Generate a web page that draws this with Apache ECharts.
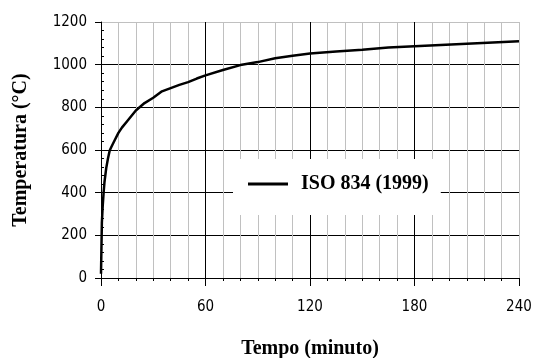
<!DOCTYPE html>
<html>
<head>
<meta charset="utf-8">
<script src="https://cdn.jsdelivr.net/npm/echarts@6/dist/echarts.min.js"></script>
<style>
  html, body { margin: 0; padding: 0; background: #fff; }
  #chart { width: 534px; height: 358px; }
</style>
</head>
<body>
<div id="chart"></div>
<script>
// Tempo (minuto) vs Temperatura (°C)
const tempo = [0, 0.5, 1, 1.5, 2, 3, 4, 5, 6, 8, 10, 12, 15, 20, 25, 30, 35, 40, 45, 50, 55, 60,
  70, 80, 90, 100, 110, 120, 135, 150, 165, 180, 195, 210, 225, 240]
const temperatura = [20, 260, 340, 400, 450, 515, 560, 598, 615, 648, 680, 705, 735, 785, 820, 845, 875, 890, 905, 918, 935, 950,
  975, 998, 1012, 1030, 1042, 1052, 1062, 1070, 1080, 1086, 1092, 1098, 1104, 1110]
const serieNome = 'ISO 834 (1999)'

const chart = echarts.init(document.getElementById('chart'), null, { renderer: 'canvas' })

const labelFont = { fontFamily: '"Liberation Sans Narrow", "DejaVu Sans Condensed", sans-serif', fontSize: 15, color: '#000' }
const titleFont = { fontFamily: '"Liberation Serif", "Times New Roman", serif', fontWeight: 'bold', fontSize: 20, color: '#000' }

const option = {
  animation: false,
  backgroundColor: '#fff',
  grid: { left: 101, right: 15, top: 22, bottom: 80, outerBoundsMode: 'none' },
  legend: {
    data: [serieNome],
    left: 233,
    top: 159,
    padding: [15, 12, 21, 15],
    backgroundColor: '#fff',
    icon: 'rect',
    itemWidth: 40,
    itemHeight: 3,
    itemGap: 0,
    textStyle: Object.assign({}, titleFont, { padding: [0, 0, 0, 8], lineHeight: 20 })
  },
  xAxis: {
    type: 'value',
    min: 0,
    max: 240,
    interval: 60,
    name: 'Tempo (minuto)',
    nameLocation: 'middle',
    nameGap: 61,
    nameTextStyle: titleFont,
    axisLine: { show: true, onZero: false, lineStyle: { color: '#000', width: 1 } },
    axisTick: { show: true, length: 8, lineStyle: { color: '#000' } },
    minorTick: { show: true, splitNumber: 6, length: 3, lineStyle: { color: '#000' } },
    axisLabel: Object.assign({ margin: 22, formatter: v => String(v) }, labelFont),
    splitLine: { show: true, showMinLine: false, lineStyle: { color: ['#000', '#000', '#000', '#c0c0c0'], width: 1 } },
    minorSplitLine: { show: true, lineStyle: { color: '#c0c0c0', width: 1 } }
  },
  yAxis: {
    type: 'value',
    min: 0,
    max: 1200,
    interval: 200,
    name: 'Temperatura (°C)',
    nameLocation: 'middle',
    nameGap: 70,
    nameTextStyle: titleFont,
    axisLine: { show: true, onZero: false, lineStyle: { color: '#000', width: 1 } },
    axisTick: { show: true, length: 6, lineStyle: { color: '#000' } },
    minorTick: { show: true, splitNumber: 5, length: -3, lineStyle: { color: '#000' } },
    axisLabel: Object.assign({ margin: 14, formatter: v => String(v) }, labelFont),
    splitLine: { show: true, showMinLine: false, lineStyle: { color: ['#000', '#000', '#000', '#000', '#000', '#c0c0c0'], width: 1 } }
  },
  series: [
    {
      name: serieNome,
      type: 'line',
      data: tempo.map((t, i) => [t, temperatura[i]]),
      showSymbol: false,
      symbol: 'none',
      itemStyle: { color: '#000' },
      lineStyle: { color: '#000', width: 2.5 },
      z: 3
    }
  ]
}

chart.setOption(option)
</script>
</body>
</html>
